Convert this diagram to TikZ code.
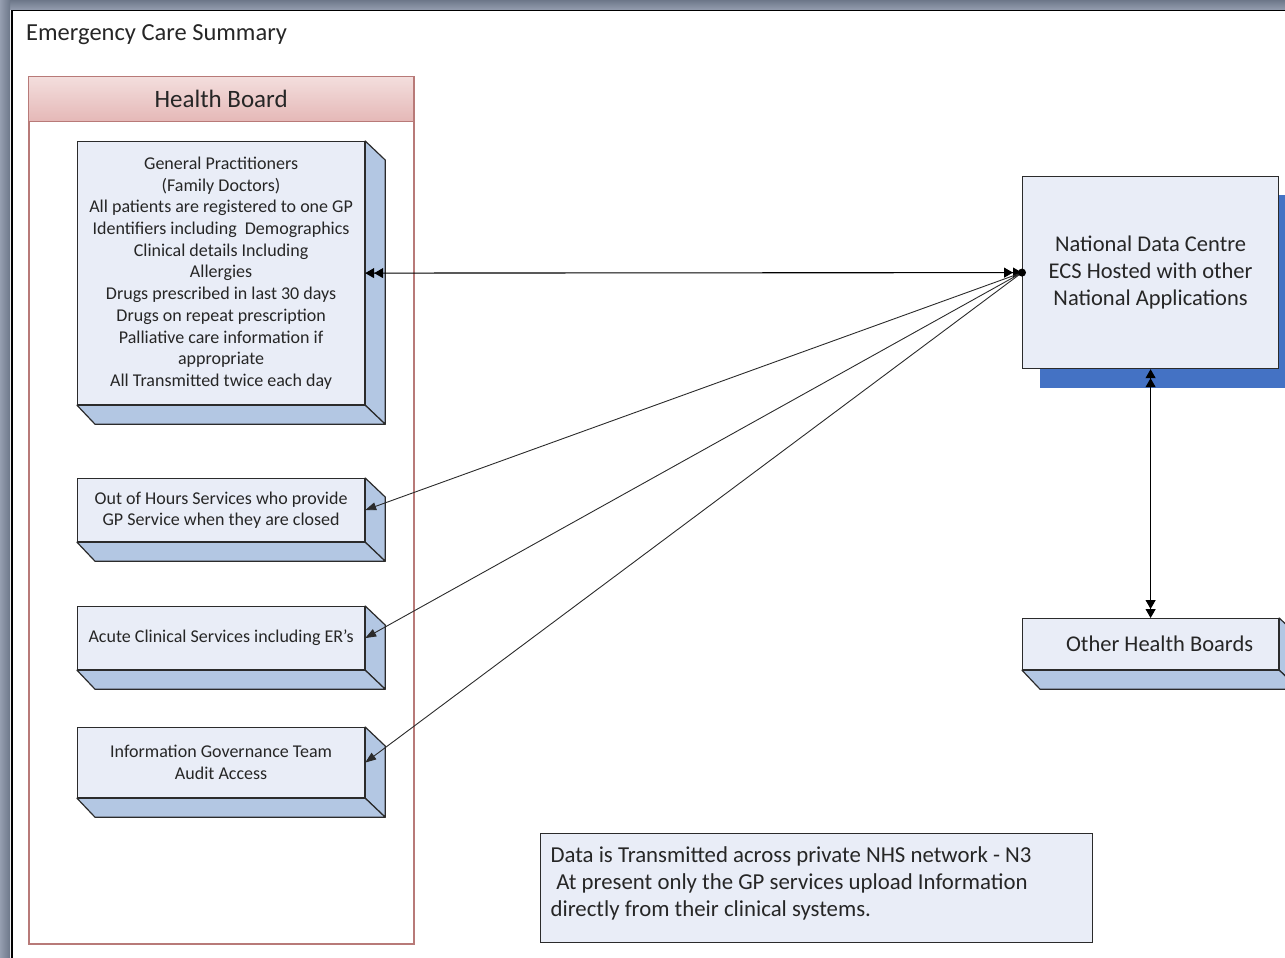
\documentclass[tikz,border=0pt]{standalone}
\usepackage{fontspec}
\setmainfont{Carlito}
\usetikzlibrary{arrows.meta}
\definecolor{frontc}{HTML}{E9EDF7}
\definecolor{sidec}{HTML}{B3C7E3}
\definecolor{edgec}{HTML}{2B2B2B}
\definecolor{hbline}{HTML}{B87A78}
\definecolor{hbtop}{HTML}{F3DEDD}
\definecolor{hbbot}{HTML}{E5B8B7}
\definecolor{shadowc}{HTML}{4472C4}
\definecolor{frameA}{HTML}{959EB0}
\definecolor{frameB}{HTML}{6D7789}
\definecolor{txt}{HTML}{262626}
\newcommand{\xtrude}[1]{%
  \draw[face] (#1.north east) -- ([shift={(20,19)}]#1.north east) -- ([shift={(20,19)}]#1.south east) -- (#1.south east) -- cycle;
  \draw[face] (#1.south west) -- ([shift={(18,19)}]#1.south west) -- ([shift={(20,19)}]#1.south east) -- (#1.south east) -- cycle;}
\begin{document}
\begin{tikzpicture}[x=1pt,y=-1pt,
  front/.style={draw=edgec, line width=1.2pt, fill=frontc, text=txt, align=center, inner sep=0pt, anchor=north west},
  face/.style={draw=edgec, line width=1.2pt, fill=sidec, line join=round},
  smalltext/.style={font=\fontsize{18}{21.7}\selectfont},
  bigtext/.style={font=\fontsize{22.5}{27}\selectfont},
  dbl/.style={draw=black, line width=1.1pt, {Triangle[length=9pt,width=10pt]Triangle[length=9pt,width=10pt]}-{Triangle[length=9pt,width=10pt]Triangle[length=9pt,width=10pt]}},
  diag/.style={draw=edgec, line width=0.9pt, -{Triangle[length=11pt,width=8pt]}}]
\useasboundingbox (0,0) rectangle (1285,958);
\clip (0,0) rectangle (1285,958);
% window frame
\shade[top color=frameA, bottom color=frameB, shading angle=180] (0,0) rectangle (1285,10);
\shade[left color=frameA, right color=frameB] (0,0) rectangle (10,958);
\draw[black, line width=1.5pt] (12,958) -- (12,10.5) -- (1285,10.5);
% title
\node[anchor=west, text=txt, font=\fontsize{24.5}{28}\selectfont, inner sep=0pt] (title) at (26,35) {Emergency Care Summary};
% health board container
\node[draw=hbline, line width=1.5pt, fill=white, minimum width=385pt, minimum height=867pt, anchor=north west, inner sep=0pt] (HB) at (28,76) {};
\node[draw=hbline, line width=1.2pt, top color=hbtop, bottom color=hbbot, minimum width=385pt, minimum height=45pt, anchor=north west, inner sep=0pt, text=txt, font=\fontsize{25}{28}\selectfont] (HBH) at (28,76) {Health Board};
% GP box
\node[front, smalltext, minimum width=287pt, minimum height=263pt] (GP) at (77,141) {General Practitioners\\(Family Doctors)\\All patients are registered to one GP\\Identifiers including\ \ Demographics\\Clinical details Including\\Allergies\\Drugs prescribed in last 30 days\\Drugs on repeat prescription\\Palliative care information if\\appropriate\\All Transmitted twice each day};
\xtrude{GP}
\node[front, smalltext, minimum width=287pt, minimum height=63pt] (OOH) at (77,478) {Out of Hours Services who provide\\GP Service when they are closed};
\xtrude{OOH}
\node[front, smalltext, minimum width=287pt, minimum height=63pt] (ACS) at (77,606) {Acute Clinical Services including ER’s};
\xtrude{ACS}
\node[front, smalltext, minimum width=287pt, minimum height=70pt] (IGT) at (77,727) {Information Governance Team\\Audit Access};
\xtrude{IGT}
% national data centre
\fill[shadowc] (1040,195) rectangle (1300,388);
\node[front, bigtext, minimum width=256pt, minimum height=192pt] (NDC) at (1022,176) {National Data Centre\\ECS Hosted with other\\National Applications};
% other health boards
\node[front, bigtext, minimum width=256pt, minimum height=51pt] (OHB) at (1022,618) {\hspace*{18pt}Other Health Boards};
\xtrude{OHB}
% note
\node[front, font=\fontsize{22.8}{27}\selectfont, inner xsep=10pt, inner ysep=8pt] (note) at (540,833) {\parbox[c][93pt][t]{532pt}{\raggedright\vspace*{5pt}Data is Transmitted across private NHS network - N3\\\hspace*{0.25em}At present only the GP services upload Information\\directly from their clinical systems.}};
% connectors
\draw[dbl] (GP.east) -- (NDC.west);
\draw[diag] (NDC.west) -- (OOH.east);
\draw[diag] (NDC.west) -- (ACS.east);
\draw[diag] (NDC.west) -- (IGT.east);
\fill[black] (NDC.west) circle (4pt);
\draw[dbl] (NDC.south) -- (OHB.north);
\end{tikzpicture}
\end{document}
